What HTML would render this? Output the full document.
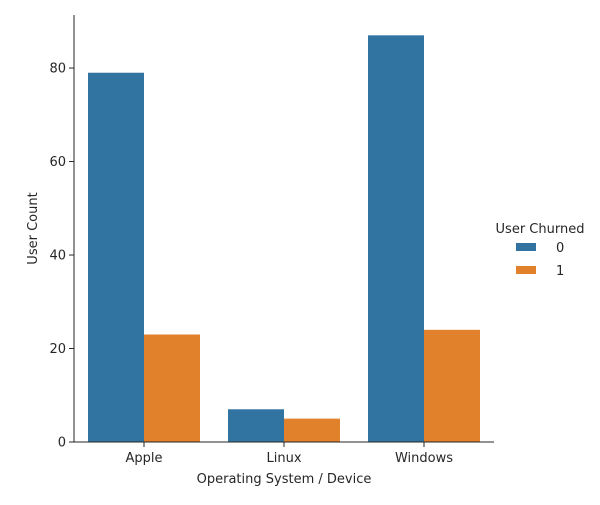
<!DOCTYPE html>
<html><head><meta charset="utf-8"><style>
body{margin:0;background:#fff;}
svg text{font-family:"DejaVu Sans","Liberation Sans",sans-serif;fill:#262626;}
</style></head><body>
<svg width="600" height="500" viewBox="0 0 600 500">
<g id="plot"></g>
<text x="284" y="483" font-size="13" text-anchor="middle">Operating System / Device</text>
<text transform="translate(37,228.5) rotate(-90)" font-size="13" text-anchor="middle">User Count</text>
<g>
<text x="540" y="233" font-size="13" text-anchor="middle">User Churned</text>
<rect x="516" y="243" width="20" height="8" fill="#3274a1"/>
<text x="556" y="252" font-size="13">0</text>
<rect x="516" y="266" width="20" height="8" fill="#e1812c"/>
<text x="556" y="275" font-size="13">1</text>
</g>
</svg>
<script>
const categories=["Apple","Linux","Windows"];
const churned0=[79,7,87];
const churned1=[23,5,24];
const yTicks=[0,20,40,60,80];
const L=74,R=494,T=15,B=442;
const ymax=Math.max(...churned0,...churned1)*1.05;
const y=v=>B-(v/ymax)*(B-T);
const band=(R-L)/categories.length;
const xc=i=>L+band*(i+0.5);
const bw=band*0.4;
const g=document.getElementById('plot');
const NS="http://www.w3.org/2000/svg";
function mk(tag,attrs){const e=document.createElementNS(NS,tag);for(const k in attrs)e.setAttribute(k,attrs[k]);g.appendChild(e);return e;}
categories.forEach((c,i)=>{
 const a=mk('rect',{x:xc(i)-bw,y:y(churned0[i]),width:bw,height:B-y(churned0[i]),fill:'#3274a1'});
 
 
 const b=mk('rect',{x:xc(i),y:y(churned1[i]),width:bw,height:B-y(churned1[i]),fill:'#e1812c'});
 
 
 const t=mk('line',{x1:xc(i),x2:xc(i),y1:B,y2:B+5,stroke:'#262626','stroke-width':1});
 
 
 const l=mk('text',{x:xc(i),y:B+20,'font-size':13,'text-anchor':'middle'});
 l.textContent=c;
 
 
});
yTicks.forEach(v=>{
 const t=mk('line',{x1:L-5,x2:L,y1:y(v),y2:y(v),stroke:'#262626','stroke-width':1});
 
 
 const l=mk('text',{x:L-8,y:y(v)+4.5,'font-size':13,'text-anchor':'end'});
 l.textContent=v;
 
 
});
const ya=mk('line',{x1:L,x2:L,y1:T,y2:B,stroke:'#262626','stroke-width':1});


const xa=mk('line',{x1:L,x2:R,y1:B,y2:B,stroke:'#262626','stroke-width':1});


</script>
</body></html>
